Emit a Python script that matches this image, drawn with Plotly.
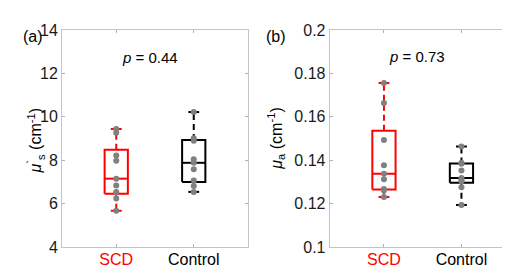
import numpy as np
import plotly.graph_objects as go

# ---- data ----
categories = ["SCD", "Control"]
cat_colors = ["red", "black"]
scd_mus = [9.44, 9.26, 8.22, 7.97, 7.15, 6.83, 6.53, 6.24, 5.67]
ctrl_mus = [10.22, 9.01, 8.90, 8.04, 7.88, 7.58, 7.06, 6.81, 6.54]
scd_mua = [0.1756, 0.1664, 0.1493, 0.1377, 0.1338, 0.1312, 0.1267, 0.1260, 0.1230]
ctrl_mua = [0.1463, 0.1388, 0.1384, 0.1352, 0.1318, 0.1309, 0.1303, 0.1275, 0.1193]
p_values = ["0.44", "0.73"]
yticks_a = [4, 6, 8, 10, 12, 14]
yticks_b = [0.1, 0.12, 0.14, 0.16, 0.18, 0.2]


def prctile(vals, p):
    x = np.sort(np.asarray(vals, float))
    n = len(x)
    pos = n * p / 100.0 + 0.5
    pos = min(max(pos, 1), n)
    lo = int(np.floor(pos))
    hi = min(lo + 1, n)
    f = pos - lo
    return x[lo - 1] + f * (x[hi - 1] - x[lo - 1])


def box_stats(vals):
    x = np.sort(np.asarray(vals, float))
    q1, med, q3 = prctile(x, 25), prctile(x, 50), prctile(x, 75)
    iqr = q3 - q1
    up = x[x <= q3 + 1.5 * iqr].max()
    lo = x[x >= q1 - 1.5 * iqr].min()
    return q1, med, q3, lo, up


fig = go.Figure()
BW = 0.15   # box half width
CW = 0.07   # cap half width
GRAY = "#808080"


def add_group(xpos, vals, color, xa, ya):
    q1, med, q3, lo, up = box_stats(vals)
    fig.add_trace(go.Scatter(
        x=[xpos, xpos, None, xpos, xpos], y=[q3, up, None, q1, lo],
        mode="lines", line=dict(color=color, width=2, dash="6px,4px"),
        xaxis=xa, yaxis=ya, hoverinfo="skip", showlegend=False))
    fig.add_trace(go.Scatter(
        x=[xpos - CW, xpos + CW, None, xpos - CW, xpos + CW],
        y=[up, up, None, lo, lo],
        mode="lines", line=dict(color=color, width=2),
        xaxis=xa, yaxis=ya, hoverinfo="skip", showlegend=False))
    fig.add_trace(go.Scatter(
        x=[xpos - BW, xpos + BW, xpos + BW, xpos - BW, xpos - BW, None, xpos - BW, xpos + BW],
        y=[q1, q1, q3, q3, q1, None, med, med],
        mode="lines", line=dict(color=color, width=2),
        xaxis=xa, yaxis=ya, hoverinfo="skip", showlegend=False))
    fig.add_trace(go.Scatter(
        x=[xpos] * len(vals), y=vals, mode="markers",
        marker=dict(color=GRAY, size=6),
        xaxis=xa, yaxis=ya, hoverinfo="skip", showlegend=False))


add_group(1, scd_mus, cat_colors[0], "x", "y")
add_group(2, ctrl_mus, cat_colors[1], "x", "y")
add_group(1, scd_mua, cat_colors[0], "x2", "y2")
add_group(2, ctrl_mua, cat_colors[1], "x2", "y2")

FONT = "Liberation Sans, Arial, Helvetica, sans-serif"
ticktext = ['<span style="color:%s">%s</span>' % (c, t) for c, t in zip(cat_colors, categories)]

axis_common = dict(showline=True, mirror="ticks", linecolor="#c4c4c4", linewidth=1,
                   ticks="inside", ticklen=3, tickcolor="#b0b0b0",
                   showgrid=False, zeroline=False,
                   tickfont=dict(family=FONT, size=16, color="#1a1a1a"))

x_dom_a = [54 / 510, 240 / 510]
x_dom_b = [321.7 / 510, 507.7 / 510]
y_dom = [1 - 246.7 / 267, 1 - 15 / 267]

fig.update_layout(
    width=510, height=267, margin=dict(l=0, r=0, t=0, b=0),
    paper_bgcolor="white", plot_bgcolor="white",
    xaxis=dict(domain=x_dom_a, range=[0.3, 2.7], tickvals=[1, 2], ticktext=ticktext,
               anchor="y", ticklabelstandoff=-2, **axis_common),
    yaxis=dict(domain=y_dom, range=[4, 14], tickvals=yticks_a, anchor="x", **axis_common),
    xaxis2=dict(domain=x_dom_b, range=[0.3, 2.7], tickvals=[1, 2], ticktext=ticktext,
                anchor="y2", ticklabelstandoff=-2, **axis_common),
    yaxis2=dict(domain=y_dom, range=[0.1, 0.2], tickvals=yticks_b, anchor="x2", **axis_common),
)

ann_font = dict(family=FONT, size=15, color="black")
lab_font = dict(family=FONT, size=16, color="black")
fig.add_annotation(x=1.43, y=12.75, xref="x", yref="y", text="<i>p</i> = " + p_values[0],
                   showarrow=False, font=ann_font)
fig.add_annotation(x=1.43, y=0.1878, xref="x2", yref="y2", text="<i>p</i> = " + p_values[1],
                   showarrow=False, font=ann_font)
fig.add_annotation(x=15 / 510, y=1 - 134 / 267, xref="paper", yref="paper", textangle=-90,
                   text="<i>μ</i><sup>`</sup><sub>s</sub> (cm<sup>-1</sup>)",
                   showarrow=False, font=lab_font)
fig.add_annotation(x=268 / 510, y=1 - 131 / 267, xref="paper", yref="paper", textangle=-90,
                   text="<i>μ</i><sub>a</sub> (cm<sup>-1</sup>)",
                   showarrow=False, font=lab_font)
fig.add_annotation(x=12.5 / 510, y=1 - 11 / 267, xref="paper", yref="paper", text="(a)",
                   showarrow=False, font=lab_font)
fig.add_annotation(x=268 / 510, y=1 - 11 / 267, xref="paper", yref="paper", text="(b)",
                   showarrow=False, font=lab_font)

fig.write_html("out.html")
